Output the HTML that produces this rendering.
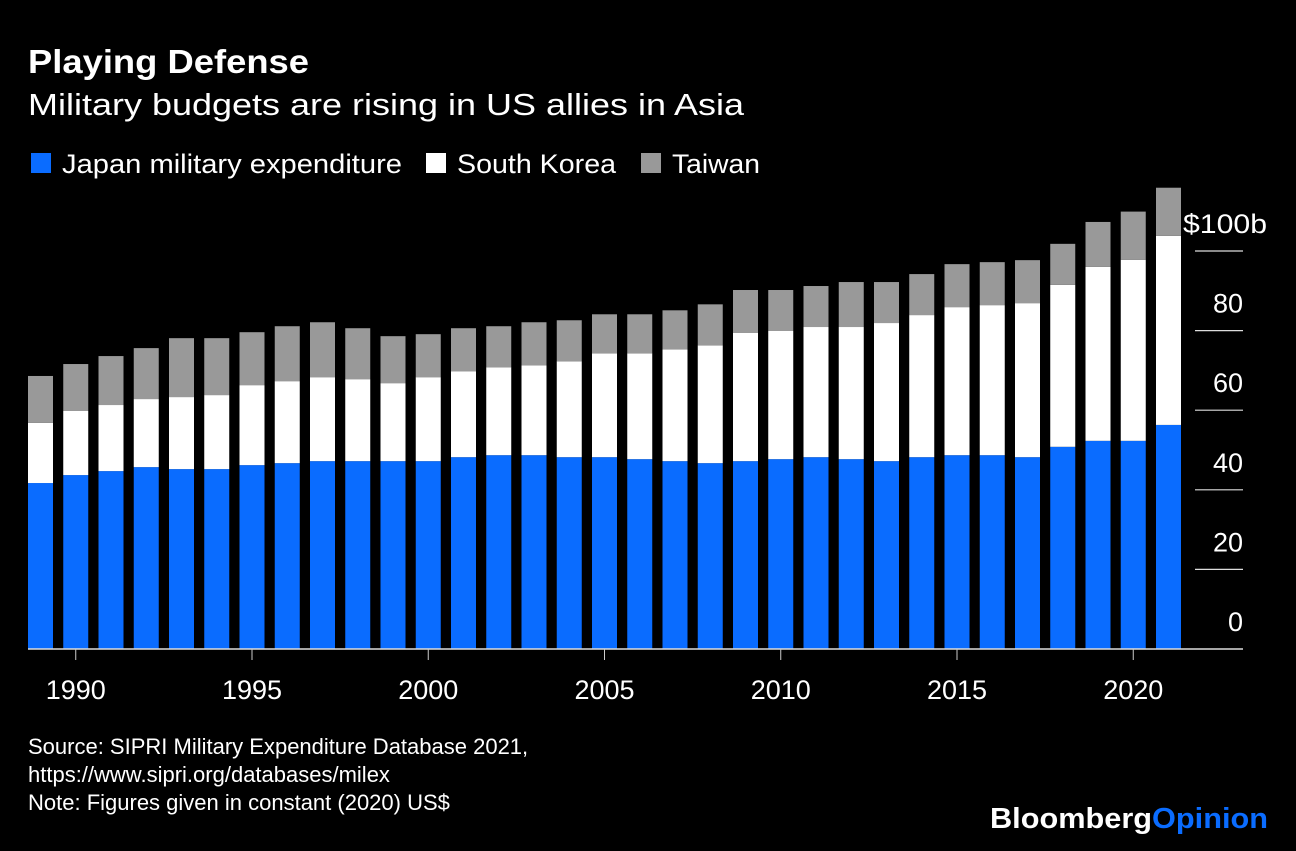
<!DOCTYPE html>
<html><head><meta charset="utf-8"><style>
body{margin:0;background:#000;width:1296px;height:846px;overflow:hidden;font-family:"Liberation Sans",Arial,sans-serif;color:#fff}
svg text{font-family:"Liberation Sans",Arial,sans-serif}
</style></head><body>
<svg width="1296" height="846">
<text x="28" y="73" font-size="33" font-weight="bold" fill="#fff" textLength="281" lengthAdjust="spacingAndGlyphs">Playing Defense</text>
<text x="28" y="115" font-size="31" fill="#fff" textLength="716" lengthAdjust="spacingAndGlyphs">Military budgets are rising in US allies in Asia</text>
<g>
<rect x="31" y="153" width="20" height="20" fill="#0a6cff"/>
<text x="62" y="173" font-size="27" fill="#fff" textLength="340" lengthAdjust="spacingAndGlyphs">Japan military expenditure</text>
<rect x="426" y="153" width="20" height="20" fill="#fff"/>
<text x="457" y="173" font-size="27" fill="#fff" textLength="159" lengthAdjust="spacingAndGlyphs">South Korea</text>
<rect x="641" y="153" width="20" height="20" fill="#999"/>
<text x="672" y="173" font-size="27" fill="#fff" textLength="88" lengthAdjust="spacingAndGlyphs">Taiwan</text>
</g>
<g id="plot"></g>
<text x="28" y="754" font-size="22" fill="#fff">Source: SIPRI Military Expenditure Database 2021,</text>
<text x="28" y="782" font-size="22" fill="#fff">https://www.sipri.org/databases/milex</text>
<text x="28" y="810" font-size="22" fill="#fff">Note: Figures given in constant (2020) US$</text>
<text x="990" y="828" font-size="29" font-weight="bold" fill="#fff" textLength="278" lengthAdjust="spacingAndGlyphs">Bloomberg<tspan fill="#0a6cff">Opinion</tspan></text>
</svg>
<script>
const years=[1989,1990,1991,1992,1993,1994,1995,1996,1997,1998,1999,2000,2001,2002,2003,2004,2005,2006,2007,2008,2009,2010,2011,2012,2013,2014,2015,2016,2017,2018,2019,2020,2021];
const japan=[41.7,43.7,44.7,45.7,45.2,45.2,46.2,46.7,47.2,47.2,47.2,47.2,48.2,48.7,48.7,48.2,48.2,47.7,47.2,46.7,47.2,47.7,48.2,47.7,47.2,48.2,48.7,48.7,48.2,50.8,52.3,52.3,56.3];
const korea=[15.1,16.1,16.6,17.1,18.1,18.6,20.1,20.6,21.1,20.6,19.6,21.1,21.6,22.1,22.6,24.1,26.1,26.6,28.1,29.6,32.2,32.2,32.7,33.2,34.7,35.7,37.2,37.7,38.7,40.7,43.7,45.5,47.5];
const taiwan=[11.8,11.8,12.3,12.8,14.8,14.3,13.3,13.8,13.8,12.8,11.8,10.8,10.8,10.3,10.8,10.3,9.8,9.8,9.8,10.3,10.8,10.3,10.3,11.3,10.3,10.3,10.8,10.8,10.8,10.3,11.3,12.1,12.1];
const yTicks=[0,20,40,60,80,100];
const xLabels=[1990,1995,2000,2005,2010,2015,2020];
const NS='http://www.w3.org/2000/svg';
const g=document.getElementById('plot');
const y0=649,pxPer=3.98,x0=28,pitch=35.25,bw=25;
const yS=v=>y0-v*pxPer;
const xS=yr=>x0+(yr-years[0])*pitch;
function mk(t,a){const e=document.createElementNS(NS,t);for(const k in a)e.setAttribute(k,a[k]);g.appendChild(e);return e;}
yTicks.forEach(v=>{
 if(v>0){const l=mk('line',{x1:1195,x2:1243,y1:yS(v),y2:yS(v),stroke:'#ddd','stroke-width':1.2});
 
 }
 const isTop=v===100;
 const attrs={x:isTop?1183:1243,y:yS(v)-18,'font-size':27,'text-anchor':isTop?'start':'end',fill:'#fff'};
 if(isTop){attrs.textLength=84;attrs.lengthAdjust='spacingAndGlyphs';}
 const t=mk('text',attrs);
 t.textContent=isTop?'$100b':String(v);
 
 
});
years.forEach((yr,i)=>{
 const x=xS(yr);
 const segs=[[0,japan[i],'#0a6cff','japan'],[japan[i],japan[i]+korea[i],'#fff','korea'],[japan[i]+korea[i],japan[i]+korea[i]+taiwan[i],'#999','taiwan']];
 segs.forEach(s=>{
  const r=mk('rect',{x:x,y:yS(s[1]),width:bw,height:yS(s[0])-yS(s[1]),fill:s[2]});
  
  
 });
});
const base=mk('line',{x1:28,x2:1243,y1:y0,y2:y0,stroke:'#ddd','stroke-width':1.5});


xLabels.forEach(yr=>{
 const cx=xS(yr)+bw/2;
 const tk=mk('line',{x1:cx,x2:cx,y1:y0,y2:y0+11,stroke:'#ccc','stroke-width':1});
 
 
 const t=mk('text',{x:cx,y:699,'font-size':27,'text-anchor':'middle',fill:'#fff'});
 t.textContent=yr;
 
 
});
</script>
</body></html>
